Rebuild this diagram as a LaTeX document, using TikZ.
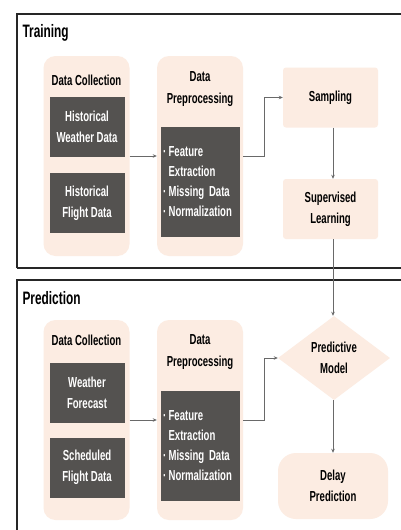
\documentclass[tikz,border=0pt]{standalone}
\usepackage{fontspec}
\setmainfont{Liberation Sans}[FakeStretch=0.66]
\usetikzlibrary{positioning,shapes.geometric,arrows.meta}
\definecolor{peachFill}{RGB}{252,236,226}
\definecolor{darkFill}{RGB}{84,82,80}
\definecolor{lineColor}{RGB}{105,105,105}
\tikzset{
    frame/.style={draw=black!85, line width=1.3pt},
    stage/.style={font=\bfseries\fontsize{18}{20}\selectfont, anchor=west},
    column/.style={
        rectangle,
        rounded corners=12pt,
        fill=peachFill,
        minimum width=86pt,
        minimum height=200pt
    },
    coltitle/.style={font=\bfseries\fontsize{14.5}{22}\selectfont, align=center},
    databox/.style={
        rectangle,
        fill=darkFill,
        text=white,
        font=\bfseries\fontsize{14.5}{21}\selectfont,
        align=center,
        minimum width=75pt,
        minimum height=60pt
    },
    stepsbox/.style={
        rectangle,
        fill=darkFill,
        text=white,
        font=\bfseries\fontsize{14.5}{20}\selectfont,
        align=left,
        text width=75pt,
        inner xsep=2pt,
        minimum height=110pt
    },
    procbox/.style={
        rectangle,
        rounded corners=3pt,
        fill=peachFill,
        font=\bfseries\fontsize{14.5}{21}\selectfont,
        align=center,
        minimum width=95pt,
        minimum height=60pt
    },
    conn/.style={-{Stealth[length=4pt,width=3.5pt]}, draw=lineColor, line width=0.8pt}
}
\newcommand{\steplist}{%
    ·\,Feature\\\hphantom{·\,}Extraction\\·\,Missing Data\\·\,Normalization}

\begin{document}
\begin{tikzpicture}[x=1pt, y=-1pt]
    \useasboundingbox (0,0) rectangle (401,530);
    \fill[white] (0,0) rectangle (401,530);

    % Training
    \draw[frame] (17,268) -- (17,14) -- (410,14);
    \draw[frame] (17,268) -- (410,268);
    \node[stage] (trainLabel) at (19,33) {Training};

    \node[column] (tdc) at (86.5,156) {};
    \node[coltitle] (tdcTitle) at (86.5,80) {Data Collection};
    \node[databox] (thw) at (87,127) {Historical\\Weather Data};
    \node[databox] (thf) at (87,203) {Historical\\Flight Data};

    \node[column] (tdp) at (200,156) {};
    \node[coltitle] (tdpTitle) at (200,89) {Data\\Preprocessing};
    \node[stepsbox] (tsteps) at (200.5,182) {\steplist};

    \node[procbox] (sampling) at (330.5,97.5) {Sampling};
    \node[procbox] (supervised) at (330.5,209) {Supervised\\Learning};

    \draw[conn] (tdc) -- (tdp);
    \draw[conn] (tdp.east) -- ++(21,0) |- (sampling.west);
    \draw[conn] (sampling.south -| 333,0) -- (supervised.north -| 333,0);

    % Prediction
    \draw[frame] (17,540) -- (17,280) -- (410,280);
    \node[stage] (predLabel) at (19,298) {Prediction};

    \node[column] (pdc) at (86.5,420) {};
    \node[coltitle] (pdcTitle) at (86.5,340) {Data Collection};
    \node[databox] (pwf) at (87,393) {Weather\\Forecast};
    \node[databox] (psf) at (87,467.5) {Scheduled\\Flight Data};

    \node[column] (pdp) at (200,420) {};
    \node[coltitle] (pdpTitle) at (200,352) {Data\\Preprocessing};
    \node[stepsbox] (psteps) at (200.5,445.5) {\steplist};

    \node[diamond, fill=peachFill, aspect=1.3, inner sep=0pt,
          minimum width=112pt, minimum height=84pt,
          font=\bfseries\fontsize{14.5}{21}\selectfont, align=center] (model) at (334,358) {Predictive\\Model};
    \node[procbox, rounded corners=18pt, minimum width=110pt, minimum height=66pt] (delay) at (333,486) {Delay\\Prediction};

    \draw[conn] (pdc) -- (pdp);
    \draw[conn] (pdp.east) -- ++(21,0) |- (model.west);
    \draw[conn] (supervised.south -| 333,0) -- (model.north -| 333,0);
    \draw[conn] (model.south -| 333,0) -- (delay.north -| 333,0);
\end{tikzpicture}
\end{document}
